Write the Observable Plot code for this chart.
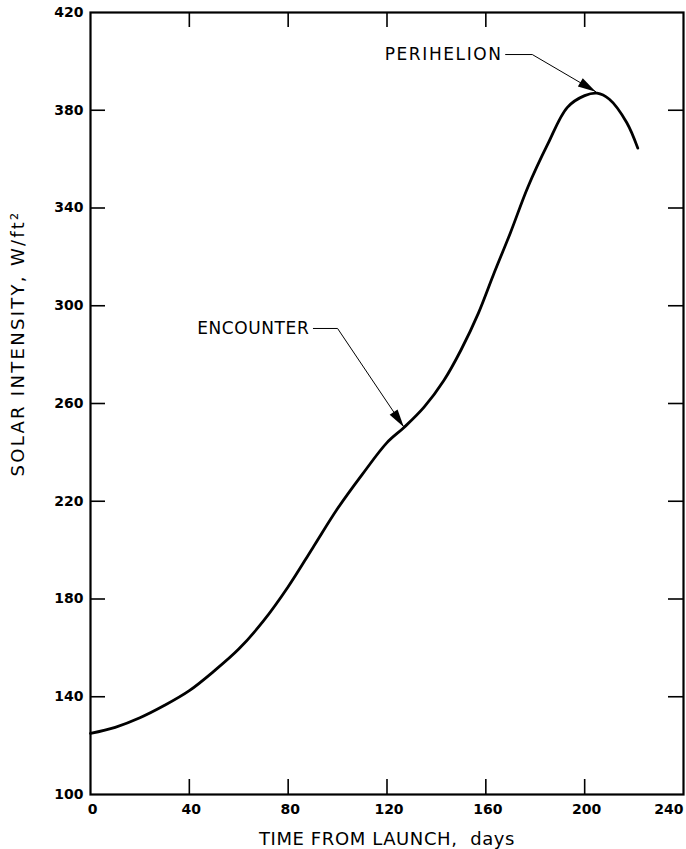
<!DOCTYPE html>
<html><head><meta charset="utf-8">
<script src="https://cdn.jsdelivr.net/npm/d3@7"></script>
<script src="https://cdn.jsdelivr.net/npm/@observablehq/plot@0.6"></script>
<style>body{margin:0;background:#fff}</style>
</head><body><div id="chart"></div>
<script>
// Data
const days =      [0,   10,    20,    30,    40,    50,    60,    70,  80,  90,  100, 110, 120, 127,   135,   143,   150, 157, 163,   170, 177,   185, 193,   200, 205, 210,   217, 221.5];
const intensity = [125, 127.5, 131.4, 136.5, 142.5, 150.5, 159.5, 171, 185, 201, 217, 231, 244, 250.3, 258.5, 269.4, 282, 297, 312.5, 330, 348.5, 366, 381.2, 386, 387, 384.5, 375, 364.5];
const xTicks = [0, 40, 80, 120, 160, 200, 240];
const yTicks = [100, 140, 180, 220, 260, 300, 340, 380, 420];
// Annotation leaders (label end -> elbow -> arrow tip)
const encounterX = [90.2, 100, 126.8];
const encounterY = [290.7, 290.7, 250.4];
const perihelionX = [168, 178.8, 204.5];
const perihelionY = [402.8, 402.8, 387.6];
const labels = ["ENCOUNTER", "PERIHELION"];
const xTitle = "TIME FROM LAUNCH,\u00a0\u00a0days";
const yTitle = "SOLAR INTENSITY, W/ft\u00b2";

const W = 686, H = 849;
const mL = 90, mR = 3, mT = 12, mB = 55;
const innerW = W - mL - mR, innerH = H - mT - mB;
const tickLen = 15;
const font = "DejaVu Sans";

function arrowHead(ux, uy, len = 18, half = 4.8) {
  const n = Math.hypot(ux, uy); ux /= n; uy /= n;
  const px = -uy, py = ux;
  return {draw(ctx) {
    ctx.moveTo(0, 0);
    ctx.lineTo(-len * ux + half * px, -len * uy + half * py);
    ctx.lineTo(-len * ux - half * px, -len * uy - half * py);
    ctx.closePath();
  }};
}

const inner = xTicks.slice(1, -1);
const innerY = yTicks.slice(1, -1);

const chart = Plot.plot({
  width: W, height: H,
  marginLeft: mL, marginRight: mR, marginTop: mT, marginBottom: mB,
  x: {domain: [0, 240], axis: null},
  y: {domain: [100, 420], axis: null},
  style: {fontFamily: font, background: "white", color: "black"},
  marks: [
    Plot.frame({stroke: "black", strokeWidth: 2.2}),
    Plot.tickX(inner, {x: d => d, insetTop: innerH - tickLen, strokeWidth: 1.6}),
    Plot.tickX(inner, {x: d => d, insetBottom: innerH - tickLen, strokeWidth: 1.6}),
    Plot.tickY(innerY, {y: d => d, insetRight: innerW - tickLen, strokeWidth: 1.6}),
    Plot.tickY(innerY, {y: d => d, insetLeft: innerW - tickLen, strokeWidth: 1.6}),
    // tick labels
    Plot.text(yTicks, {y: d => d, text: d => String(d), frameAnchor: "left", textAnchor: "end", dx: -7, fontSize: 14, fontWeight: "bold"}),
    Plot.text(xTicks.slice(0, -1), {x: d => d, text: d => String(d), frameAnchor: "bottom", dy: 15, dx: 2, lineAnchor: "middle", fontSize: 14, fontWeight: "bold"}),
    Plot.text(xTicks.slice(-1), {x: d => d, text: d => String(d), frameAnchor: "bottom", dy: 15, textAnchor: "end", lineAnchor: "middle", fontSize: 14, fontWeight: "bold"}),
    // axis titles
    Plot.text([xTitle], {frameAnchor: "bottom", dy: 45, lineAnchor: "middle", fontSize: 18}),
    Plot.text([yTitle], {frameAnchor: "left", textAnchor: "middle", rotate: -90, dx: -72, dy: -60, lineAnchor: "middle", fontSize: 18}),
    // curve
    Plot.line(intensity, {x: days, y: intensity, curve: "catmull-rom", strokeWidth: 2.8}),
    // annotations
    Plot.line(encounterY, {x: encounterX, y: encounterY, strokeWidth: 1}),
    Plot.line(perihelionY, {x: perihelionX, y: perihelionY, strokeWidth: 1}),
    Plot.dot([0], {x: encounterX.slice(-1), y: encounterY.slice(-1), r: 3, fill: "black", symbol: arrowHead(66.6, 97)}),
    Plot.dot([0], {x: perihelionX.slice(-1), y: perihelionY.slice(-1), r: 3, fill: "black", symbol: arrowHead(63.3, 37.7)}),
    Plot.text([labels[0]], {x: [encounterX[0]], y: [encounterY[0]], textAnchor: "end", dx: -4, fontSize: 17}),
    Plot.text([labels[1]], {x: [perihelionX[0]], y: [perihelionY[0]], textAnchor: "end", dx: -3, fontSize: 17})
  ]
});
// widen the lettering slightly to match the drafted labels
chart.querySelectorAll("text").forEach(t => {
  const s = t.textContent;
  if (s === yTitle) t.style.letterSpacing = "2.3px";
  else if (s === xTitle) t.style.letterSpacing = "0.6px";
  else if (s === labels[0]) t.style.letterSpacing = "0.6px";
  else if (s === labels[1]) t.style.letterSpacing = "1.6px";
});
document.getElementById("chart").appendChild(chart);
</script>
</body></html>
